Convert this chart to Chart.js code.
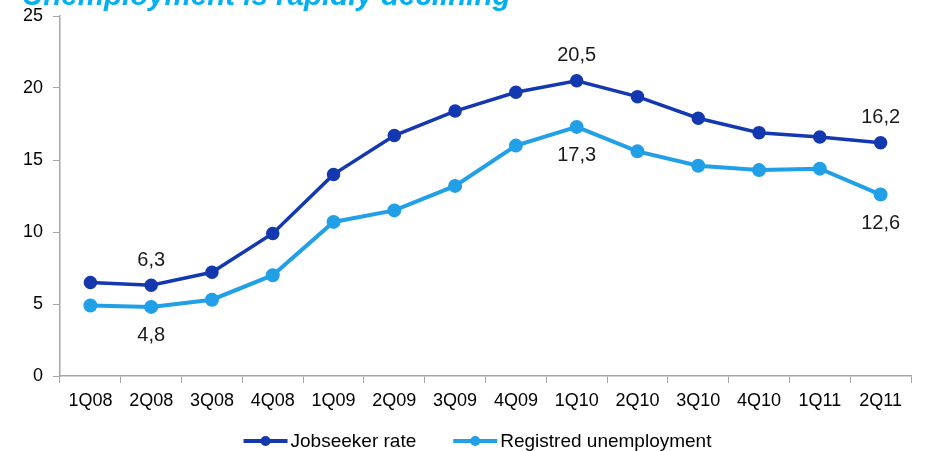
<!DOCTYPE html>
<html lang="en">
<head>
    <meta charset="UTF-8">
    <title>Unemployment is rapidly declining</title>
    <script src="https://cdn.jsdelivr.net/npm/chart.js@4.4.0/dist/chart.umd.min.js"></script>
    <style>
        html, body { margin: 0; padding: 0; background: #fff; overflow: hidden; }
        .wrap { position: relative; width: 947px; height: 451px; overflow: hidden; }
        .title {
            position: absolute; left: 22px; top: -22px;
            font: italic bold 29.5px "Liberation Sans", Arial, sans-serif;
            color: #00b0f0; white-space: nowrap;
        }
        canvas { position: absolute; left: 0; top: 0; }
    </style>
</head>
<body>
    <div class="wrap">
        <canvas id="chart" width="947" height="451"></canvas>
        <div class="title">Unemployment is rapidly declining</div>
    </div>

    <script>
        const categories = ['1Q08', '2Q08', '3Q08', '4Q08', '1Q09', '2Q09', '3Q09', '4Q09',
            '1Q10', '2Q10', '3Q10', '4Q10', '1Q11', '2Q11'];
        const jobseekerRate = [6.5, 6.3, 7.2, 9.9, 14.0, 16.7, 18.4, 19.7, 20.5, 19.4, 17.9, 16.9, 16.6, 16.2];
        const registredUnemployment = [4.9, 4.8, 5.3, 7.0, 10.7, 11.5, 13.2, 16.0, 17.3, 15.6, 14.6, 14.3, 14.4, 12.6];
        const labelledPoints = [1, 8, 13];
        const yTicks = [0, 5, 10, 15, 20, 25];

        const darkBlue = '#1338b0';
        const lightBlue = '#219fe7';
        const font = '"Liberation Sans", Arial, sans-serif';

        // values printed above (first series) or below (second series) a few points
        const valueLabels = {
            id: 'valueLabels',
            afterDatasetsDraw(chart) {
                const ctx = chart.ctx;
                ctx.save();
                ctx.font = '20px ' + font;
                ctx.fillStyle = '#1a1a1a';
                ctx.textAlign = 'center';
                ctx.textBaseline = 'middle';
                chart.data.datasets.forEach((ds, di) => {
                    const meta = chart.getDatasetMeta(di);
                    labelledPoints.forEach(i => {
                        const p = meta.data[i];
                        const dy = di === 0 ? -25 : 29;
                        ctx.fillText(ds.data[i].toFixed(1).replace('.', ','), p.x, p.y + dy);
                    });
                });
                ctx.restore();
            }
        };

        // legend with a line-and-dot marker like the office chart
        const lineLegend = {
            id: 'lineLegend',
            afterDraw(chart) {
                const ctx = chart.ctx;
                const markW = 44, gap = 3, spacing = 37, y = 441;
                ctx.save();
                ctx.font = '19px ' + font;
                ctx.textBaseline = 'middle';
                const items = chart.data.datasets.map(ds => ({
                    text: ds.label, color: ds.borderColor, w: ctx.measureText(ds.label).width
                }));
                let total = 0;
                items.forEach((it, i) => { total += markW + gap + it.w + (i ? spacing : 0); });
                let x = chart.width / 2 + 4 - total / 2;
                items.forEach(it => {
                    ctx.strokeStyle = it.color;
                    ctx.lineWidth = 4;
                    ctx.beginPath(); ctx.moveTo(x, y); ctx.lineTo(x + markW, y); ctx.stroke();
                    ctx.fillStyle = it.color;
                    ctx.beginPath(); ctx.arc(x + markW / 2, y, 5, 0, Math.PI * 2); ctx.fill();
                    ctx.fillStyle = '#000';
                    ctx.fillText(it.text, x + markW + gap, y + 1);
                    x += markW + gap + it.w + spacing;
                });
                ctx.restore();
            }
        };

        new Chart(document.getElementById('chart'), {
            type: 'line',
            data: {
                labels: categories,
                datasets: [{
                    label: 'Jobseeker rate',
                    data: jobseekerRate,
                    borderColor: darkBlue,
                    backgroundColor: darkBlue,
                    borderWidth: 3.5,
                    pointRadius: 5,
                    pointHoverRadius: 5,
                    tension: 0
                }, {
                    label: 'Registred unemployment',
                    data: registredUnemployment,
                    borderColor: lightBlue,
                    backgroundColor: lightBlue,
                    borderWidth: 4,
                    pointRadius: 5,
                    pointHoverRadius: 5,
                    tension: 0
                }]
            },
            options: {
                responsive: false,
                animation: false,
                layout: { padding: { top: 16, right: 36, left: 0, bottom: 41 } },
                plugins: {
                    tooltip: { enabled: false },
                    legend: { display: false }
                },
                scales: {
                    x: {
                        offset: true,
                        grid: { drawOnChartArea: false, offset: true, tickLength: 7, color: '#a6a6a6' },
                        border: { color: '#a6a6a6', width: 1.5 },
                        ticks: { color: '#000', font: { family: font, size: 18 }, padding: 7, maxRotation: 0 },
                        afterFit(scale) { scale.height = 34; }
                    },
                    y: {
                        min: 0,
                        max: 25,
                        afterBuildTicks(scale) { scale.ticks = yTicks.map(v => ({ value: v })); },
                        grid: { drawOnChartArea: false, tickLength: 7, color: '#a6a6a6' },
                        border: { color: '#a6a6a6', width: 1.5 },
                        ticks: { color: '#000', font: { family: font, size: 18 }, padding: 10 },
                        afterFit(scale) {
                            scale.width = 60;
                            scale.paddingTop = 0;
                            scale.paddingBottom = 0;
                        }
                    }
                }
            },
            plugins: [valueLabels, lineLegend]
        });
    </script>
</body>
</html>
